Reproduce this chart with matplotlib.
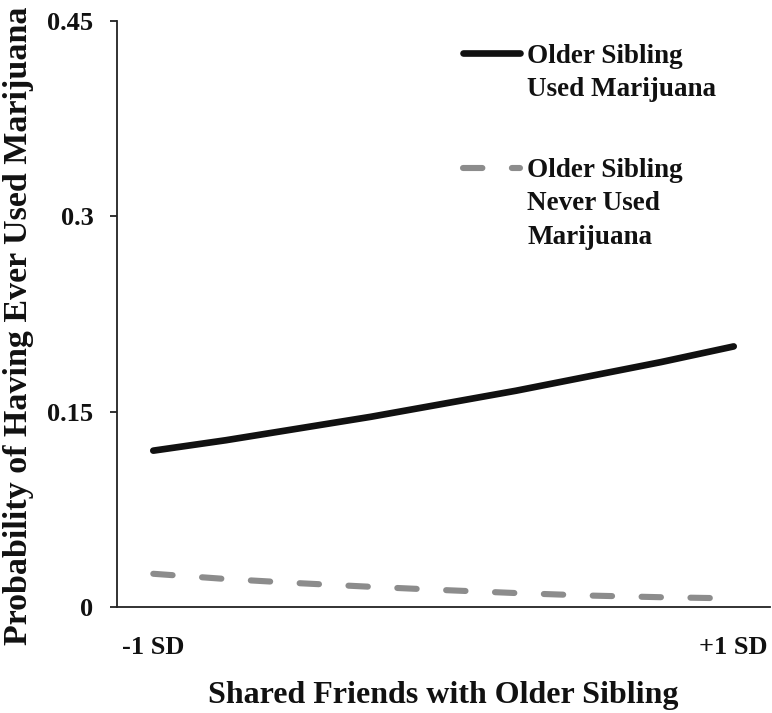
import matplotlib
matplotlib.use("Agg")
import matplotlib.pyplot as plt
from matplotlib.lines import Line2D

# ---- data ----
x_positions = [-1.0, -0.75, -0.5, -0.25, 0.0, 0.25, 0.5, 0.75, 1.0]
used_marijuana = [0.120, 0.128, 0.137, 0.146, 0.156, 0.166, 0.177, 0.188, 0.200]
never_used = [0.0255, 0.0215, 0.0183, 0.0155, 0.0130, 0.0107, 0.0088, 0.0075, 0.0066]
x_tick_values = [-1, 1]
x_tick_labels = ["-1 SD", "+1 SD"]
y_tick_values = [0, 0.15, 0.3, 0.45]
y_tick_labels = ["0", "0.15", "0.3", "0.45"]
series_labels = ["Older Sibling\nUsed Marijuana", "Older Sibling\nNever Used\nMarijuana"]

W, H = 772, 713
plt.rcParams['font.family'] = ['Liberation Serif', 'DejaVu Serif']
plt.rcParams['font.weight'] = 'bold'

fig = plt.figure(figsize=(W / 100, H / 100), dpi=100)

def fx(px):
    return px / W

def fy(py):
    return 1 - py / H

left, right, top, bottom = 117, 770, 20.7, 607
ax = fig.add_axes([fx(left), fy(bottom), fx(right) - fx(left), fy(top) - fy(bottom)])

BLACK = '#111111'
GRAY = '#8c8c8c'

ax.plot(x_positions, used_marijuana, color=BLACK, lw=4.8, solid_capstyle='round')
ax.plot(x_positions, never_used, color=GRAY, lw=4.4, dash_capstyle='round',
        linestyle=(0, (3.17, 4.83)))

ax.set_xlim(-1.125, 1.125)
ax.set_ylim(0, 0.45)
ax.set_xticks(x_tick_values)
ax.set_xticklabels(x_tick_labels)
ax.set_yticks(y_tick_values)
ax.set_yticklabels(y_tick_labels)

for s in ['top', 'right']:
    ax.spines[s].set_visible(False)
for s in ['left', 'bottom']:
    ax.spines[s].set_linewidth(1.3)
    ax.spines[s].set_color('#222222')

ax.tick_params(axis='y', direction='out', length=5, width=1.3, color='#222222',
               pad=12, labelsize=19, labelcolor=BLACK)
ax.tick_params(axis='x', length=0, pad=21, labelsize=19, labelcolor=BLACK)
for lab in ax.get_xticklabels() + ax.get_yticklabels():
    lab.set_fontweight('bold')

ax.set_xlabel("Shared Friends with Older Sibling", fontsize=23, fontweight='bold', color=BLACK)
ax.xaxis.set_label_coords(0.5, (fy(695) - fy(bottom)) / (fy(top) - fy(bottom)), transform=ax.transAxes)
ax.xaxis.label.set_va('center')
ax.set_ylabel("Probability of Having Ever Used Marijuana", fontsize=24.5, fontweight='bold', color=BLACK)
ax.yaxis.set_label_coords((fx(19) - fx(left)) / (fx(right) - fx(left)),
                          (fy(326) - fy(bottom)) / (fy(top) - fy(bottom)), transform=ax.transAxes)
ax.yaxis.label.set_va('center')

# ---- legend (manual, handle aligned with first text line) ----
fig.add_artist(Line2D([fx(463), fx(520)], [fy(53.3), fy(53.3)], color=BLACK, lw=4.8,
                      solid_capstyle='round'))
fig.add_artist(Line2D([fx(463), fx(520)], [fy(168.3), fy(168.3)], color=GRAY, lw=4.4,
                      dash_capstyle='round', linestyle=(0, (3.17, 4.83))))
fig.text(fx(527), fy(44.3), series_labels[0], fontsize=19.5, fontweight='bold', color=BLACK,
         va='top', ha='left', linespacing=1.43)
fig.text(fx(527), fy(158.3), series_labels[1], fontsize=19.5, fontweight='bold', color=BLACK,
         va='top', ha='left', linespacing=1.43)

fig.savefig("out.png", dpi=100)
